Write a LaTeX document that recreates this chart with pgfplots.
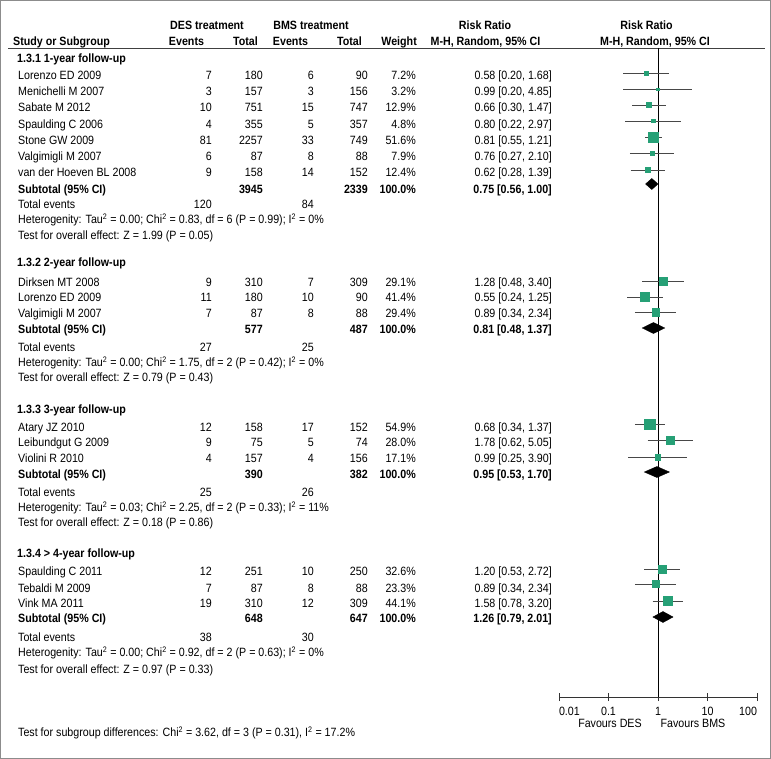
\documentclass[border=0pt]{standalone}
\usepackage{fontspec}
\setmainfont{Liberation Sans}[FakeStretch=0.89]
\usepackage{pgfplots}
\pgfplotsset{compat=1.18}
\definecolor{sqgreen}{RGB}{38,160,118}
\definecolor{framegray}{RGB}{140,140,140}
\newcommand\fs{\fontsize{12}{14}\selectfont}
\tikzset{L/.style={anchor=base west}, R/.style={anchor=base east}, C/.style={anchor=base}}
\newcommand\sq{\textsuperscript{2}}
% y, name, e1, n1, e2, n2, weight, ci
\newcommand\study[8]{%
 \node[L] at (18,#1+4.5) {#2};
 \node[R] at (212,#1+4.5) {#3};
 \node[R] at (263,#1+4.5) {#4};
 \node[R] at (314,#1+4.5) {#5};
 \node[R] at (368,#1+4.5) {#6};
 \node[R] at (416,#1+4.5) {#7};
 \node[R] at (552,#1+4.5) {#8};}
\newcommand\subtot[4]{%
 \node[L] at (18,#1+4.5) {\bfseries Subtotal (95\% CI)};
 \node[R] at (263,#1+4.5) {\bfseries #2};
 \node[R] at (368,#1+4.5) {\bfseries #3};
 \node[R] at (416,#1+4.5) {\bfseries 100.0\%};
 \node[R] at (552,#1+4.5) {\bfseries #4};}
\newcommand\totev[3]{%
 \node[L] at (18,#1+4.5) {Total events};
 \node[R] at (212,#1+4.5) {#2};
 \node[R] at (314,#1+4.5) {#3};}
\newcommand\txt[2]{\node[L] at (18,#1+4.5) {#2};}
\begin{document}
\begin{tikzpicture}
\begin{scope}[x=1pt,y=-1pt, every node/.style={inner sep=0pt, font=\fs}]
\draw[framegray, line width=1pt] (0.5,0.5) rectangle (770.5,758.5);
\draw[black!75, line width=0.8pt] (8,48) -- (765,48);
% headers
\node[C] at (207,25+4.5) {\bfseries DES treatment};
\node[C] at (311,25+4.5) {\bfseries BMS treatment};
\node[C] at (485,25+4.5) {\bfseries Risk Ratio};
\node[C] at (646.5,25+4.5) {\bfseries Risk Ratio};
\node[L] at (13,41+4.5) {\bfseries Study or Subgroup};
\node[C] at (186.5,41+4.5) {\bfseries Events};
\node[R] at (258,41+4.5) {\bfseries Total};
\node[C] at (290.5,41+4.5) {\bfseries Events};
\node[R] at (362,41+4.5) {\bfseries Total};
\node[R] at (417,41+4.5) {\bfseries Weight};
\node[C] at (485.5,41+4.5) {\bfseries M-H, Random, 95\% CI};
\node[C] at (655,41+4.5) {\bfseries M-H, Random, 95\% CI};
% 1.3.1
\node[L] at (17,58+4.5) {\bfseries 1.3.1 1-year follow-up};
\study{75}{Lorenzo ED 2009}{7}{180}{6}{90}{7.2\%}{0.58 [0.20, 1.68]}
\study{91}{Menichelli M 2007}{3}{157}{3}{156}{3.2\%}{0.99 [0.20, 4.85]}
\study{107}{Sabate M 2012}{10}{751}{15}{747}{12.9\%}{0.66 [0.30, 1.47]}
\study{124}{Spaulding C 2006}{4}{355}{5}{357}{4.8\%}{0.80 [0.22, 2.97]}
\study{140}{Stone GW 2009}{81}{2257}{33}{749}{51.6\%}{0.81 [0.55, 1.21]}
\study{156}{Valgimigli M 2007}{6}{87}{8}{88}{7.9\%}{0.76 [0.27, 2.10]}
\study{172}{van der Hoeven BL 2008}{9}{158}{14}{152}{12.4\%}{0.62 [0.28, 1.39]}
\subtot{189}{3945}{2339}{0.75 [0.56, 1.00]}
\totev{204}{120}{84}
\txt{219}{Heterogenity: Tau\sq{} = 0.00; Chi\sq{} = 0.83, df = 6 (P = 0.99); I\sq{} = 0\%}
\txt{235}{Test for overall effect: Z = 1.99 (P = 0.05)}
% 1.3.2
\node[L] at (17,262+4.5) {\bfseries 1.3.2 2-year follow-up};
\study{282}{Dirksen MT 2008}{9}{310}{7}{309}{29.1\%}{1.28 [0.48, 3.40]}
\study{297}{Lorenzo ED 2009}{11}{180}{10}{90}{41.4\%}{0.55 [0.24, 1.25]}
\study{313}{Valgimigli M 2007}{7}{87}{8}{88}{29.4\%}{0.89 [0.34, 2.34]}
\subtot{329}{577}{487}{0.81 [0.48, 1.37]}
\totev{347}{27}{25}
\txt{362}{Heterogenity: Tau\sq{} = 0.00; Chi\sq{} = 1.75, df = 2 (P = 0.42); I\sq{} = 0\%}
\txt{377}{Test for overall effect: Z = 0.79 (P = 0.43)}
% 1.3.3
\node[L] at (17,409+4.5) {\bfseries 1.3.3 3-year follow-up};
\study{427}{Atary JZ 2010}{12}{158}{17}{152}{54.9\%}{0.68 [0.34, 1.37]}
\study{442}{Leibundgut G 2009}{9}{75}{5}{74}{28.0\%}{1.78 [0.62, 5.05]}
\study{458}{Violini R 2010}{4}{157}{4}{156}{17.1\%}{0.99 [0.25, 3.90]}
\subtot{474}{390}{382}{0.95 [0.53, 1.70]}
\totev{492}{25}{26}
\txt{507}{Heterogenity: Tau\sq{} = 0.03; Chi\sq{} = 2.25, df = 2 (P = 0.33); I\sq{} = 11\%}
\txt{522}{Test for overall effect: Z = 0.18 (P = 0.86)}
% 1.3.4
\node[L] at (17,553+4.5) {\bfseries 1.3.4 > 4-year follow-up};
\study{571}{Spaulding C 2011}{12}{251}{10}{250}{32.6\%}{1.20 [0.53, 2.72]}
\study{588}{Tebaldi M 2009}{7}{87}{8}{88}{23.3\%}{0.89 [0.34, 2.34]}
\study{603}{Vink MA 2011}{19}{310}{12}{309}{44.1\%}{1.58 [0.78, 3.20]}
\subtot{618}{648}{647}{1.26 [0.79, 2.01]}
\totev{637}{38}{30}
\txt{652}{Heterogenity: Tau\sq{} = 0.00; Chi\sq{} = 0.92, df = 2 (P = 0.63); I\sq{} = 0\%}
\txt{669}{Test for overall effect: Z = 0.97 (P = 0.33)}
\txt{732}{Test for subgroup differences: Chi\sq{} = 3.62, df = 3 (P = 0.31), I\sq{} = 17.2\%}
% favours
\node[C] at (610,723+4.5) {Favours DES};
\node[C] at (693,723+4.5) {Favours BMS};
\end{scope}
\begin{axis}[
  at={(559pt,-697pt)}, anchor=south west,
  scale only axis, width=198pt, height=649pt,
  xmode=log, log basis x=10, xmin=0.01, xmax=100, ymin=-697, ymax=-48,
  axis x line*=bottom, axis y line=none,
  ytick=\empty,
  xtick={0.01,0.1,1,10,100},
  xticklabels={{\rlap{0.01}},0.1,1,10,{\llap{100}}},
  tick align=center, major tick length=8pt,
  x axis line style={-, line width=0.8pt, black!80},
  xtick style={line width=0.8pt, black!80},
  xticklabel style={font=\fs, anchor=base, yshift=-14.5pt},
  /pgf/number format/assume math mode=true,
  clip=false,
]
\addplot[black, line width=0.8pt] coordinates {(1,-48) (1,-697)};
\addplot[black!72, line width=0.8pt, unbounded coords=jump] coordinates {
 (0.20,-73) (1.68,-73) (1,nan)
 (0.20,-89) (4.85,-89) (1,nan)
 (0.30,-105) (1.47,-105) (1,nan)
 (0.22,-121) (2.97,-121) (1,nan)
 (0.55,-137) (1.21,-137) (1,nan)
 (0.27,-153) (2.10,-153) (1,nan)
 (0.28,-170) (1.39,-170) (1,nan)
 (0.48,-281) (3.40,-281) (1,nan)
 (0.24,-297) (1.25,-297) (1,nan)
 (0.34,-312) (2.34,-312) (1,nan)
 (0.34,-424) (1.37,-424) (1,nan)
 (0.62,-440) (5.05,-440) (1,nan)
 (0.25,-457) (3.90,-457) (1,nan)
 (0.53,-569) (2.72,-569) (1,nan)
 (0.34,-584) (2.34,-584) (1,nan)
 (0.78,-601) (3.20,-601)
};
\addplot[scatter, only marks, mark=square*,
  scatter/use mapped color={draw=sqgreen, fill=sqgreen},
  point meta=\thisrow{w},
  visualization depends on={\thisrow{w} \as \wt},
  scatter/@pre marker code/.append style={/tikz/mark size={0.7*sqrt(\wt)}}]
  table[x=rr, y=y] {
rr    y     w
0.58  -73   7.2
0.99  -89   3.2
0.66  -105  12.9
0.80  -121  4.8
0.81  -137  51.6
0.76  -153  7.9
0.62  -170  12.4
1.28  -281  29.1
0.55  -297  41.4
0.89  -312  29.4
0.68  -424  54.9
1.78  -440  28.0
0.99  -457  17.1
1.20  -569  32.6
0.89  -584  23.3
1.58  -601  44.1
};
\addplot[fill=black, draw=black] coordinates {(0.56,-184) (0.75,-178.5) (1.00,-184) (0.75,-189.5)} --cycle;
\addplot[fill=black, draw=black] coordinates {(0.48,-328) (0.81,-322.5) (1.37,-328) (0.81,-333.5)} --cycle;
\addplot[fill=black, draw=black] coordinates {(0.53,-472) (0.95,-466.5) (1.70,-472) (0.95,-477.5)} --cycle;
\addplot[fill=black, draw=black] coordinates {(0.79,-617) (1.26,-611.5) (2.01,-617) (1.26,-622.5)} --cycle;
\end{axis}
\pgfresetboundingbox
\path (0pt,0pt) rectangle (771pt,-759pt);
\end{tikzpicture}
\end{document}
